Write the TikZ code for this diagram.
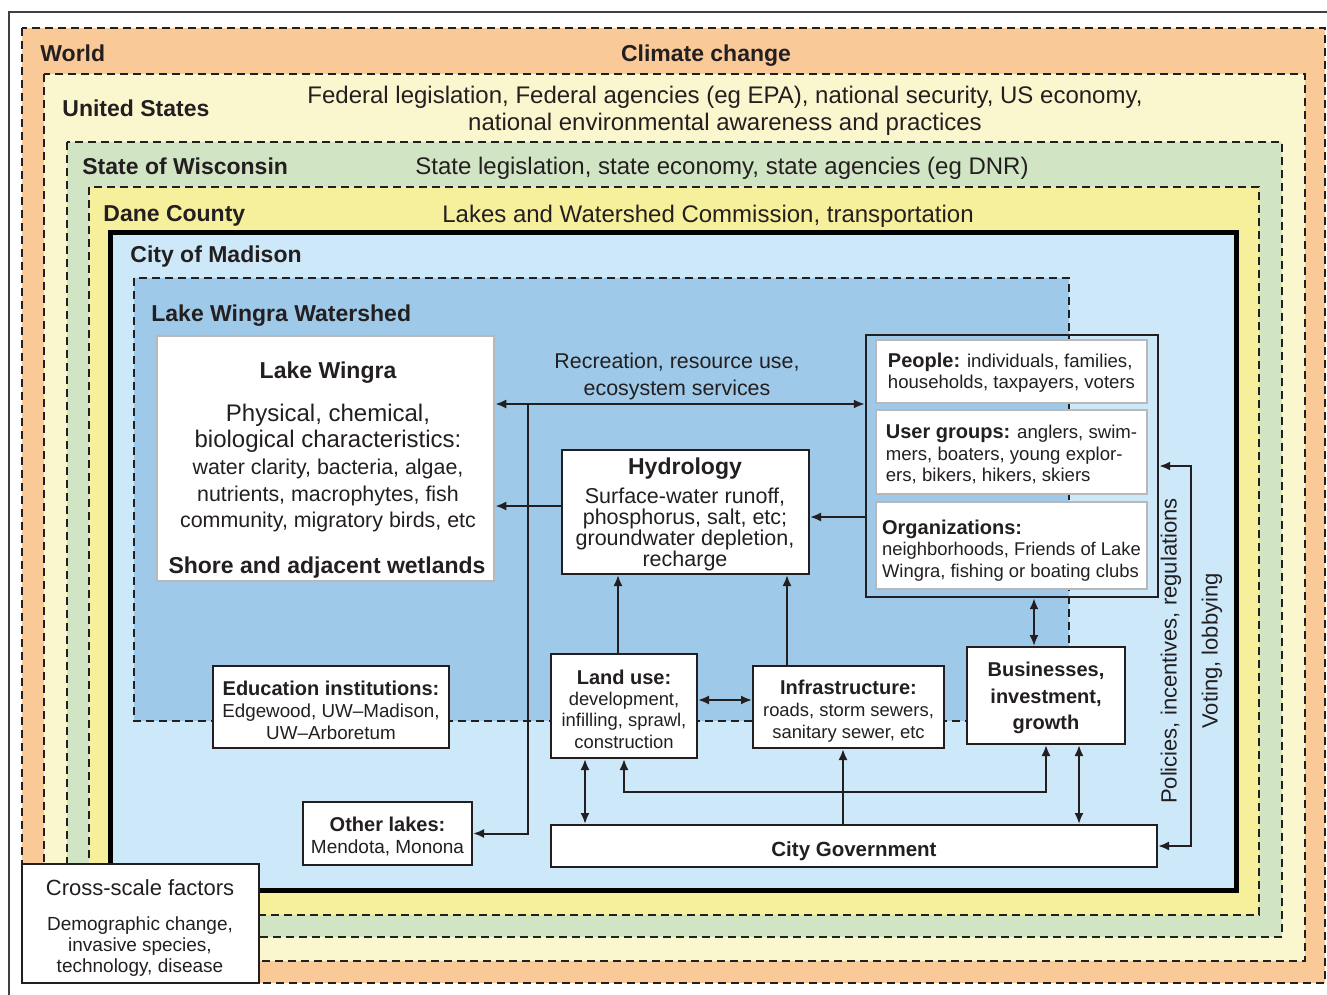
\documentclass[tikz,border=0pt]{standalone}
\usepackage{fontspec}
\setmainfont{Liberation Sans}
\usetikzlibrary{positioning,calc,arrows.meta}

\definecolor{worldc}{RGB}{250,201,152}
\definecolor{usc}{RGB}{250,247,206}
\definecolor{wisc}{RGB}{209,229,197}
\definecolor{danec}{RGB}{246,240,156}
\definecolor{cityc}{RGB}{205,232,248}
\definecolor{shedc}{RGB}{158,201,233}
\definecolor{ink}{RGB}{35,31,32}

\newcommand{\fs}[2]{\fontsize{#1}{#2}\selectfont}
\newcommand{\lift}[1]{\rule{0pt}{#1}}

\tikzset{
  zone/.style={draw=ink,line width=0.9pt,dash pattern=on 4pt off 2.5pt},
  zonettl/.style={anchor=base west,inner sep=0pt,font=\fs{11.5}{13}\bfseries},
  zonetxt/.style={inner sep=0pt,align=center,font=\fs{12}{13.5}},
  whitebox/.style={draw=ink,line width=1pt,fill=white,inner sep=0pt},
  greybox/.style={draw=black!28,line width=1.3pt,fill=white,inner sep=0pt},
  link/.style={draw=ink,line width=1pt},
}

\begin{document}
\begin{tikzpicture}[x=0.5pt,y=-0.5pt,>={Latex[length=5.5pt,width=4.5pt]},every node/.style={text=ink}]
\useasboundingbox (0,0) rectangle (1327,995);
\draw[black!75,line width=0.7pt] (9,995) -- (9,12) -- (1327,12);

% nested scales
\foreach \c/\xa/\ya/\xb/\yb in {worldc/22/28/1325/983,usc/44/74/1305/961,wisc/67/142/1282/937,danec/89/187/1259/915}
  \filldraw[zone,fill=\c] (\xa,\ya) rectangle (\xb,\yb);
\filldraw[fill=cityc,draw=black,line width=2.5pt] (110.5,232.5) rectangle (1236,890.5);
\filldraw[zone,fill=shedc] (134,278) rectangle (1069,721);

\node[zonettl] (world) at (40,62) {World};
\node[zonetxt,anchor=base,font=\fs{11.5}{13}\bfseries] (climate) at (706,62) {Climate change};
\node[zonettl] (us) at (62,117) {United States};
\node[zonetxt] (federal) at (725,111) {Federal legislation, Federal agencies (eg EPA), national security, US economy,\\national environmental awareness and practices};
\node[zonettl] (wisconsin) at (82,174) {State of Wisconsin};
\node[zonetxt,anchor=base] (state) at (722,174) {State legislation, state economy, state agencies (eg DNR)};
\node[zonettl] (dane) at (103,221) {Dane County};
\node[zonetxt,anchor=base] (county) at (708,222) {Lakes and Watershed Commission, transportation};
\node[zonettl] (madison) at (130,262) {City of Madison};
\node[zonettl] (watershed) at (151,321) {Lake Wingra Watershed};

% lake
\node[greybox,minimum width=168.5pt,minimum height=122.5pt] (lake) at (325.5,458.5) {};
\node[font=\fs{11.5}{13}\bfseries] (laketitle) at (328,373) {Lake Wingra};
\node[align=center,font=\fs{12}{13}] (lakephys) at (328,428) {Physical, chemical,\\biological characteristics:};
\node[align=center,font=\fs{10.7}{13.25}] (lakechar) at (328,495.5) {water clarity, bacteria, algae,\\nutrients, macrophytes, fish\\community, migratory birds, etc};
\node[font=\fs{11.5}{13}\bfseries] (lakeshore) at (327,568) {Shore and adjacent wetlands};

% hydrology
\node[whitebox,minimum width=123.5pt,minimum height=62pt] (hydro) at (685.5,512) {};
\node[font=\fs{11.5}{13}\bfseries] (hydrotitle) at (685,469) {Hydrology};
\node[align=center,font=\fs{10.75}{10.5}] (hydrotext) at (685,529.5) {Surface-water runoff,\\phosphorus, salt, etc;\\groundwater depletion,\\recharge};

% society
\node[draw=ink,line width=1.2pt,minimum width=146pt,minimum height=131pt,inner sep=0pt] (society) at (1012,466) {};
\node[greybox,minimum width=135.5pt,minimum height=31.5pt,align=left,font=\fs{9.3}{10.5}] (people) at (1011.5,371.5) {{\fs{10}{10.5}\bfseries\lift{8.3pt}People:} individuals, families,\\households, taxpayers, voters};
\node[greybox,minimum width=135.5pt,minimum height=42pt,align=left,font=\fs{9.3}{10.75}] (users) at (1011.5,452) {{\fs{10}{10.75}\bfseries\lift{9.3pt}User groups:} anglers, swim-\\mers, boaters, young explor-\\ers, bikers, hikers, skiers};
\node[greybox,minimum width=135.5pt,minimum height=43.5pt,align=left,font=\fs{9.2}{10.75}] (orgs) at (1011.5,545.5) {{\fs{10}{10.75}\bfseries\lift{12pt}Organizations:}\\neighborhoods, Friends of Lake\\Wingra, fishing or boating clubs};

% city boxes
\node[whitebox,minimum width=118pt,minimum height=41pt,align=center,font=\fs{9.4}{11}] (edu) at (331,707) {{\fs{10}{11}\bfseries\lift{11pt}Education institutions:}\\Edgewood, UW--Madison,\\UW--Arboretum};
\node[whitebox,minimum width=84.5pt,minimum height=31.5pt,align=center,font=\fs{9.5}{11}] (lakes) at (387.5,833.5) {{\fs{10}{11}\bfseries\lift{10.3pt}Other lakes:}\\Mendota, Monona};
\node[whitebox,minimum width=73pt,minimum height=52pt,align=center,font=\fs{9.2}{10.6}] (landuse) at (624,706) {{\fs{10}{10.6}\bfseries\lift{10.3pt}Land use:}\\development,\\infilling, sprawl,\\construction};
\node[whitebox,minimum width=95.5pt,minimum height=41pt,align=center,font=\fs{9.2}{11}] (infra) at (848.5,707) {{\fs{10}{11}\bfseries\lift{11pt}Infrastructure:}\\roads, storm sewers,\\sanitary sewer, etc};
\node[whitebox,minimum width=79pt,minimum height=48.5pt,align=center,font=\fs{10}{13.25}\bfseries] (business) at (1046,695.5) {\lift{9.8pt}Businesses,\\investment,\\growth};
\node[whitebox,minimum width=303pt,minimum height=21pt,font=\fs{10.25}{12}\bfseries] (citygov) at (854,846) {\lift{12.3pt}City Government};

% cross-scale
\node[whitebox,minimum width=118.5pt,minimum height=59.5pt] (cross) at (140.5,923.5) {};
\node[font=\fs{11}{12}] (crosstitle) at (140,888) {Cross-scale factors};
\node[align=center,font=\fs{9.5}{10.5}] (crosstext) at (140,947) {Demographic change,\\invasive species,\\technology, disease};

% labels
\node[align=center,font=\fs{10.7}{13.5}] (recreation) at (677,376.5) {Recreation, resource use,\\ecosystem services};
\node[rotate=90,font=\fs{11}{12}] (policies) at (1171,651) {Policies, incentives, regulations};
\node[rotate=90,font=\fs{11}{12}] (voting) at (1212,651) {Voting, lobbying};

% connectors
\coordinate (split) at (528,404);
\coordinate (loop) at (624,792);
\coordinate (lobby) at (1191,846);
\draw[link,<->] (lake.east |- split) -- (society.west |- split);
\draw[link,->] (split) |- (lakes.east);
\draw[link,->] (hydro.west |- 0,506) -- (lake.east |- 0,506);
\draw[link,->] (society.west |- 0,517) -- (hydro.east |- 0,517);
\draw[link,->] (landuse.north -| 618,0) -- (hydro.south -| 618,0);
\draw[link,->] (infra.north -| 787,0) -- (hydro.south -| 787,0);
\draw[link,<->] (landuse.east |- 0,700) -- (infra.west |- 0,700);
\draw[link,<->] (society.south -| 1034,0) -- (business.north -| 1034,0);
\draw[link,<->] (landuse.south -| 585,0) -- (citygov.north -| 585,0);
\draw[link,<->] (landuse.south -| loop) -- (loop) -| (business.south -| 1046,0);
\draw[link,->] (citygov.north -| 843,0) -- (infra.south -| 843,0);
\draw[link,<->] (citygov.north -| 1079,0) -- (business.south -| 1079,0);
\draw[link,<->] (society.east |- 0,466) -| (lobby) -- (citygov.east);

\end{tikzpicture}
\end{document}
